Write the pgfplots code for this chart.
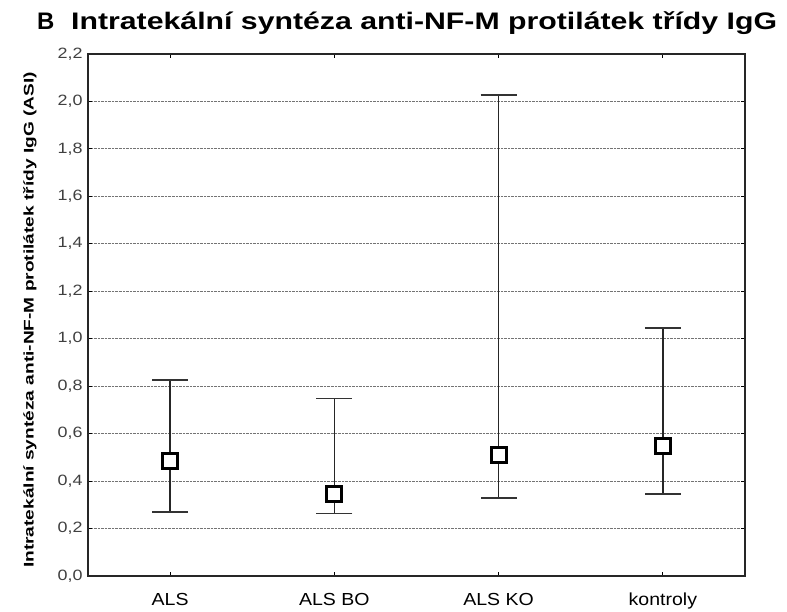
\documentclass[border=0pt]{standalone}
\usepackage{pgfplots}
\pgfplotsset{compat=1.18}
\usepackage{fontspec}
\setmainfont{Liberation Sans}
\newcommand{\xl}[1]{\scalebox{1.12}[1]{#1}}
\begin{document}
\begin{tikzpicture}[x=1bp,y=1bp]
\path[use as bounding box] (0,0) rectangle (787,612);
\begin{axis}[
  at={(88bp,36bp)}, anchor=south west,
  scale only axis, width=657bp, height=522bp,
  xmin=-0.5, xmax=3.5, ymin=0, ymax=2.2,
  xtick={0,1,2,3}, xticklabels={\xl{ALS}, \xl{ALS BO}, \xl{ALS KO}, \xl{kontroly}},
  ytick={0,0.2,...,2.2},
  yticklabel={\scalebox{1.2}[1]{\pgfmathprintnumber[fixed,fixed zerofill,precision=1,use comma]{\tick}}},
  /pgf/number format/assume math mode=true,
  tick align=inside, major tick length=4bp,
  tick style={black, line width=1bp},
  ymajorgrids, grid style={densely dotted, black!55, line width=1bp},
  axis line style={black!85, line width=1.2bp},
  x tick label style={font=\fontsize{17.5}{19}\selectfont, text height=12.5bp, text depth=3bp, yshift=-13bp},
  y tick label style={font=\fontsize{15}{17}\selectfont, text=black!75, xshift=-2bp},
  clip=false,
]
\addplot[draw=none, mark=none, black!85, line width=1.4bp,
  error bars/.cd, y dir=both, y explicit, error mark=|,
  error bar style={black!85, line width=1.5bp},
  error mark options={black!80, line width=1.8bp, mark size=18bp}]
 coordinates {
  (0,0.485) -= (0,0.215) += (0,0.341)
  (1,0.347) -= (0,0.084) += (0,0.401)
  (2,0.509) -= (0,0.180) += (0,1.518)
  (3,0.547) -= (0,0.202) += (0,0.499)
 };
\addplot[only marks, mark=square*, mark size=7.5bp,
  mark options={fill=white, draw=black, line width=2.8bp}]
 coordinates {(0,0.485) (1,0.347) (2,0.509) (3,0.547)};
\end{axis}
\node[rotate=90, font=\fontsize{14}{16}\selectfont\bfseries, inner sep=0pt] at (30,292) {\scalebox{1.37}[1]{Intratekální syntéza anti-NF-M protilátek třídy IgG (ASI)}};
\node[anchor=base west, font=\fontsize{24}{28}\selectfont\bfseries, inner sep=0pt] at (37,582) {B};
\node[anchor=base west, font=\fontsize{24}{28}\selectfont\bfseries, inner sep=0pt] at (71,582) {\scalebox{1.265}[1]{Intratekální syntéza anti-NF-M protilátek třídy IgG}};
\end{tikzpicture}
\end{document}
